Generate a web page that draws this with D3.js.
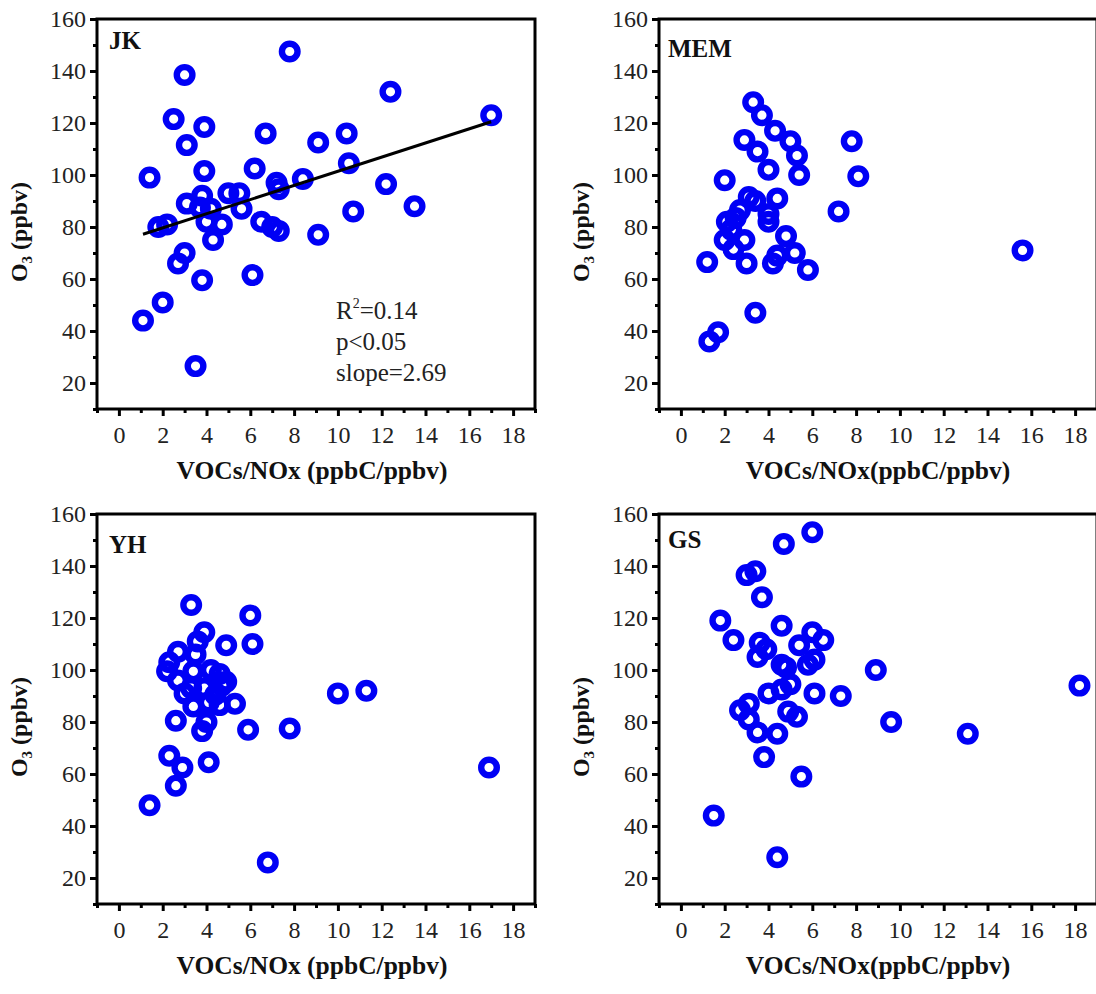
<!DOCTYPE html>
<html>
<head>
<meta charset="utf-8">
<script src="https://cdn.jsdelivr.net/npm/d3@7"></script>
<style>
  body { margin: 0; background: #fff; }
  text { font-family: "Liberation Serif", "Times New Roman", serif; }
</style>
</head>
<body>
<svg width="1096" height="994"></svg>
<script>
// O3 vs VOCs/NOx at four sites
const sites = ["JK", "MEM", "YH", "GS"];

const jkPoints = [
  [7.8, 147.5], [3.0, 138.5], [12.4, 132], [17.0, 123], [2.5, 121.5], [3.9, 118.5],
  [6.7, 116], [10.4, 116], [3.1, 111.5], [9.1, 112.5], [1.4, 99], [3.9, 101.5],
  [6.2, 102.5], [10.5, 104.5], [7.2, 97], [8.4, 98.5], [12.2, 96.5], [5.0, 93],
  [5.5, 93], [3.8, 92], [3.1, 89], [3.7, 87.5], [4.2, 87], [5.6, 87], [7.3, 94.5],
  [10.7, 86], [13.5, 88], [1.8, 80], [2.2, 81], [4.0, 82], [4.7, 81], [6.5, 82],
  [7.0, 80], [7.3, 78.5], [4.3, 75], [9.1, 77], [3.0, 70], [2.7, 66], [3.8, 59.5],
  [6.1, 61.5], [2.0, 51], [1.1, 44], [3.5, 26.5]
];

const memPoints = [
  [3.3, 128], [3.7, 123], [4.3, 117], [5.0, 113], [2.9, 113.5], [3.5, 109],
  [5.3, 107.5], [7.8, 113], [4.0, 102], [5.4, 100], [8.1, 99.5], [2.0, 98],
  [3.1, 91.5], [3.4, 90], [4.4, 91], [2.7, 86.5], [2.5, 83.5], [4.0, 85],
  [4.0, 82], [7.2, 86], [2.1, 82], [2.3, 79], [2.0, 75], [2.9, 75], [4.8, 76.5],
  [2.4, 71.5], [5.2, 70], [4.4, 69], [4.2, 66], [3.0, 66], [1.2, 66.5], [5.8, 63.5],
  [15.6, 71], [3.4, 47], [1.7, 39.5], [1.3, 36]
];

const yhPoints = [
  [3.3, 125], [6.0, 121], [3.9, 114.5], [3.6, 111], [4.9, 109.5], [6.1, 110],
  [2.7, 107], [2.3, 103], [3.5, 106], [2.2, 99.5], [3.4, 99.5], [4.2, 100],
  [4.6, 98.5], [2.7, 96], [4.9, 95.5], [4.7, 94], [3.3, 93], [3.9, 93], [3.0, 91],
  [4.4, 90.5], [3.4, 86], [5.3, 87], [4.6, 86.5], [4.1, 87.5], [2.6, 80.5], [4.0, 80],
  [3.8, 76.5], [5.9, 77], [7.8, 77.5], [10.0, 91], [11.3, 92], [2.3, 67], [2.9, 62.5],
  [4.1, 64.5], [2.6, 55.5], [1.4, 48], [6.8, 26], [16.9, 62.5]
];

const gsPoints = [
  [6.0, 153], [4.7, 148.5], [3.4, 138], [3.0, 136.5], [3.7, 128], [1.8, 119],
  [4.6, 117], [6.0, 114.5], [2.4, 111.5], [6.5, 111.5], [3.6, 110.5], [5.4, 109.5],
  [3.9, 108], [3.5, 105], [6.1, 104], [5.8, 102], [4.6, 102], [4.8, 101], [8.9, 100],
  [5.0, 94.5], [4.6, 92.5], [4.0, 91], [6.1, 91], [7.3, 90], [18.2, 94], [3.1, 87],
  [2.7, 84.5], [4.9, 84], [5.3, 82], [3.1, 81], [9.6, 80], [3.5, 76], [4.4, 75.5],
  [13.1, 75.5], [3.8, 66.5], [5.5, 59], [1.5, 44], [4.4, 28]
];

// linear fit drawn for JK only
const jkFit = [[1.1, 77.2], [17.0, 120.5]];
const jkStats = ["R", "=0.14", "p<0.05", "slope=2.69"];

const xTicks = [0, 2, 4, 6, 8, 10, 12, 14, 16, 18];
const xMinor = [-1, 1, 3, 5, 7, 9, 11, 13, 15, 17, 19];
const yTicks = [20, 40, 60, 80, 100, 120, 140, 160];
const yMinor = [10, 30, 50, 70, 90, 110, 130, 150];

const xTitles = ["VOCs/NOx (ppbC/ppbv)", "VOCs/NOx(ppbC/ppbv)", "VOCs/NOx (ppbC/ppbv)", "VOCs/NOx(ppbC/ppbv)"];
const allPoints = [jkPoints, memPoints, yhPoints, gsPoints];

const svg = d3.select("svg");
svg.append("rect").attr("width", 1096).attr("height", 994).attr("fill", "#fff");

const pw = 438, ph = 390;
const origins = [[97, 19], [659, 19], [97, 514], [659, 514]];
const labelDy = [30, 38, 39, 34];

const x = d3.scaleLinear().domain([-1, 19]).range([0, pw]);
const y = d3.scaleLinear().domain([10, 160]).range([ph, 0]);

sites.forEach((site, i) => {
    const [ox, oy] = origins[i];
    const g = svg.append("g").attr("transform", `translate(${ox},${oy})`);

    // minor ticks
    g.append("g")
        .attr("transform", `translate(0,${ph})`)
        .call(d3.axisBottom(x).tickValues(xMinor).tickSize(4).tickFormat(""))
        .call(a => a.select(".domain").remove());
    g.append("g")
        .call(d3.axisLeft(y).tickValues(yMinor).tickSize(4).tickFormat(""))
        .call(a => a.select(".domain").remove());

    // major ticks
    g.append("g")
        .attr("class", "axis axis--x")
        .attr("transform", `translate(0,${ph})`)
        .call(d3.axisBottom(x).tickValues(xTicks).tickSize(7).tickPadding(10))
        .call(a => a.select(".domain").remove());
    g.append("g")
        .attr("class", "axis axis--y")
        .call(d3.axisLeft(y).tickValues(yTicks).tickSize(7).tickPadding(4))
        .call(a => a.select(".domain").remove());

    g.selectAll(".tick line").attr("stroke", "#000").attr("stroke-width", 3);
    g.selectAll(".tick text")
        .attr("font-size", 24)
        .attr("fill", "#222")
        .attr("font-family", "Liberation Serif, serif");

    // frame
    g.append("rect")
        .attr("width", pw)
        .attr("height", ph)
        .attr("fill", "none")
        .attr("stroke", "#000")
        .attr("stroke-width", 3);

    // points
    g.selectAll("circle.pt")
        .data(allPoints[i])
        .join("circle")
        .attr("class", "pt")
        .attr("cx", d => x(d[0]))
        .attr("cy", d => y(d[1]))
        .attr("r", 7.8)
        .attr("fill", "none")
        .attr("stroke", "#0000f5")
        .attr("stroke-width", 6.4);

    // site label
    g.append("text")
        .attr("x", i % 2 === 0 ? 12 : 9)
        .attr("y", labelDy[i])
        .attr("font-size", 25)
        .attr("font-weight", "bold")
        .attr("fill", "#111")
        .text(site);

    // x title
    g.append("text")
        .attr("x", pw / 2 - (i % 2 === 0 ? 4 : 0))
        .attr("y", ph + 70)
        .attr("text-anchor", "middle")
        .attr("font-size", 25.5)
        .attr("font-weight", "bold")
        .attr("fill", "#111")
        .text(xTitles[i]);

    // y title
    const yt = g.append("text")
        .attr("transform", `translate(-70,${ph / 2 + 18}) rotate(-90)`)
        .attr("text-anchor", "middle")
        .attr("font-size", 24)
        .attr("font-weight", "bold")
        .attr("fill", "#111");
    yt.append("tspan").text("O");
    yt.append("tspan").attr("font-size", 15).attr("dy", 5).text("3");
    yt.append("tspan").attr("dy", -5).text(" (ppbv)");

    if (site === "JK") {
        g.append("line")
            .attr("x1", x(jkFit[0][0]))
            .attr("y1", y(jkFit[0][1]))
            .attr("x2", x(jkFit[1][0]))
            .attr("y2", y(jkFit[1][1]))
            .attr("stroke", "#000")
            .attr("stroke-width", 3);

        const st = g.append("g").attr("font-size", 25).attr("fill", "#222");
        const r2 = st.append("text").attr("x", 239).attr("y", 300);
        r2.append("tspan").text(jkStats[0]);
        r2.append("tspan").attr("font-size", 14).attr("dy", -11).text("2");
        r2.append("tspan").attr("dy", 11).text(jkStats[1]);
        st.append("text").attr("x", 239).attr("y", 331).text(jkStats[2]);
        st.append("text").attr("x", 239).attr("y", 362).text(jkStats[3]);
    }
});
</script>
</body>
</html>
